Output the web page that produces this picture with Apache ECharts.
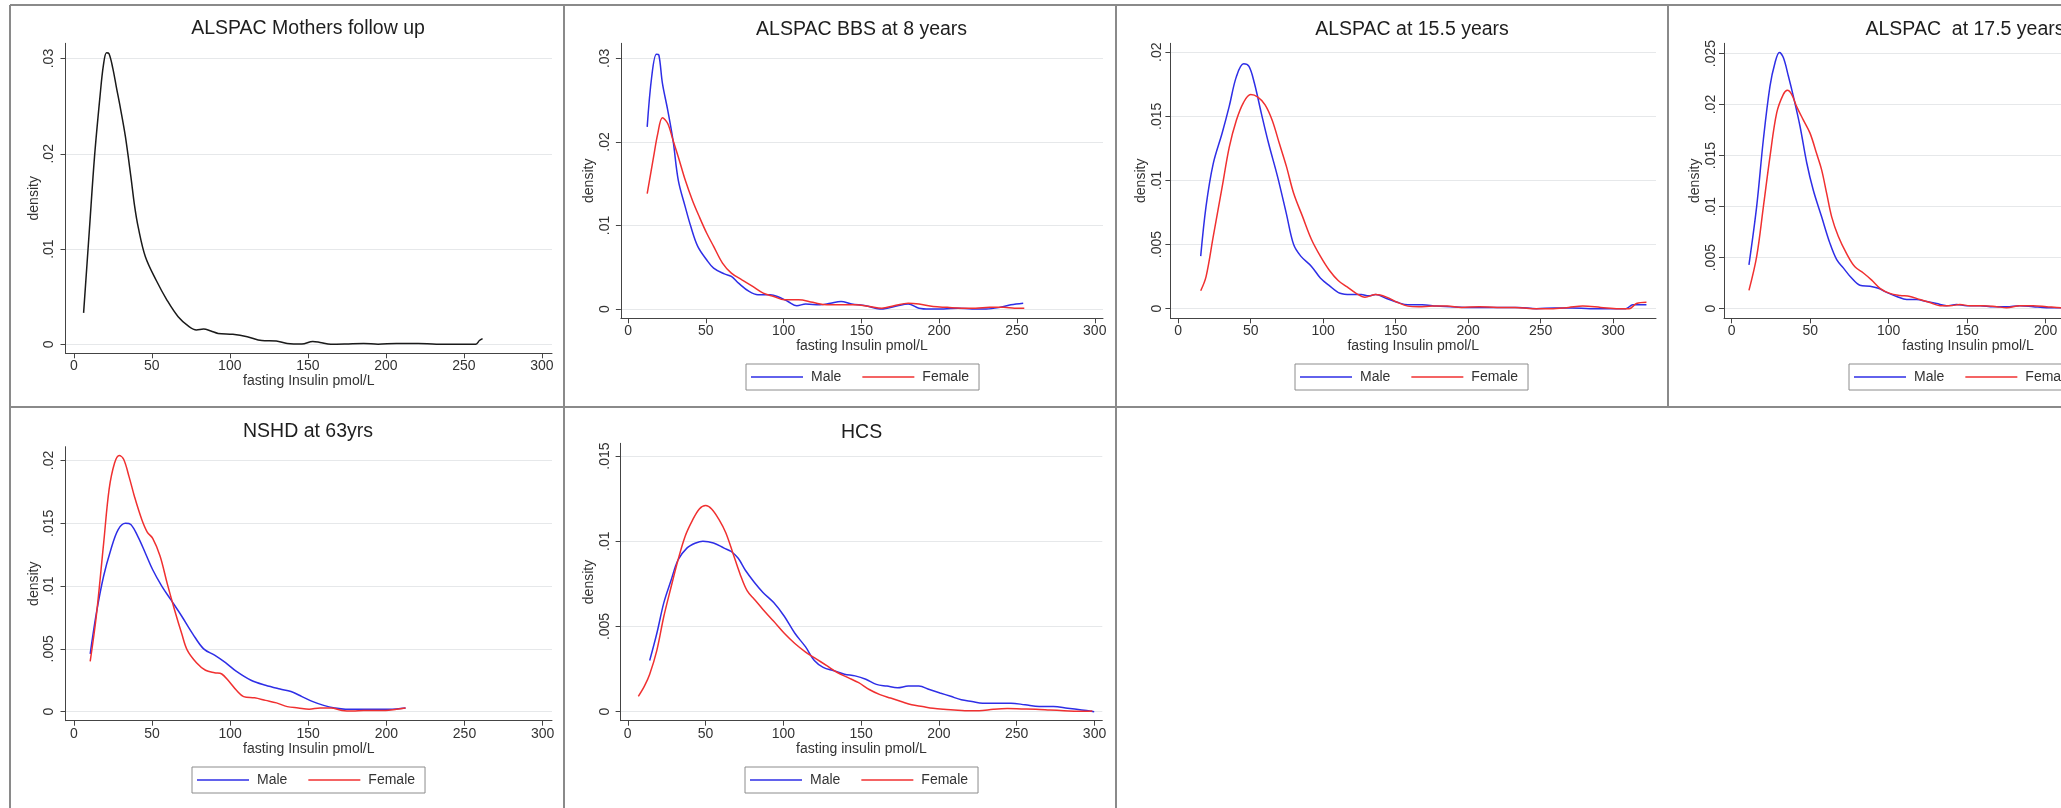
<!DOCTYPE html>
<html>
<head>
<meta charset="utf-8">
<script src="https://cdn.jsdelivr.net/npm/echarts@6/dist/echarts.min.js"></script>
<style>
html,body{margin:0;padding:0;overflow:hidden;background:#fff;}
#chart{width:2240px;height:808px;}
</style>
</head>
<body>
<div id="chart"></div>
<script>
// ---------------- DATA ----------------
const titles = ['ALSPAC Mothers follow up', 'ALSPAC BBS at 8 years', 'ALSPAC at 15.5 years', 'ALSPAC  at 17.5 years', 'NSHD at 63yrs', 'HCS'];
const xTitles = ['fasting Insulin pmol/L', 'fasting Insulin pmol/L', 'fasting Insulin pmol/L', 'fasting Insulin pmol/L', 'fasting Insulin pmol/L', 'fasting insulin pmol/L'];
const yTitle = 'density';
const legendNames = ['Male', 'Female'];
const xTicks = [0, 50, 100, 150, 200, 250, 300];
const yTicksP1 = [0, 0.01, 0.02, 0.03];
const yTicksP2 = [0, 0.01, 0.02, 0.03];
const yTicksP3 = [0, 0.005, 0.01, 0.015, 0.02];
const yTicksP4 = [0, 0.005, 0.01, 0.015, 0.02, 0.025];
const yTicksP5 = [0, 0.005, 0.01, 0.015, 0.02];
const yTicksP6 = [0, 0.005, 0.01, 0.015];

const mothers = [[6.3,0.0033],[10,0.012],[13.3,0.0197],[16.8,0.026],[19,0.0293],[21,0.0306],[22.6,0.0305],[25,0.029],[27.3,0.027],[30,0.0247],[33.1,0.0218],[36.6,0.0176],[39,0.0145],[41.3,0.0123],[45.9,0.0092],[52.9,0.0067],[59.9,0.0046],[66.9,0.0029],[73.9,0.00185],[78.6,0.0015],[83.2,0.0016],[87.9,0.0014],[92.5,0.00115],[101.9,0.00105],[111.2,0.0008],[120.5,0.0004],[129.8,0.00035],[136.8,0.0001],[146.2,0.00003],[153.2,0.0003],[157.8,0.0002],[164.8,0],[174.1,0.00003],[185.8,0.0001],[195,0],[206.8,0.0001],[220.7,0.0001],[232.4,0],[244,0],[257.5,0],[260,0.0004],[262,0.0006]];

const bbs8Male = [[12.3,0.0218],[15.2,0.0278],[18.2,0.0305],[19.8,0.0304],[22.1,0.027],[25.5,0.0238],[28.9,0.0202],[32.3,0.0154],[36.8,0.0122],[40.3,0.0099],[44.8,0.0075],[50.5,0.0059],[55,0.0049],[61.9,0.0042],[66.4,0.0039],[71,0.0031],[77.8,0.0021],[83.5,0.0017],[91.4,0.0017],[96,0.0015],[102.8,0.0009],[108.5,0.0004],[114.2,0.0006],[123.3,0.0005],[130.1,0.0007],[136.9,0.0009],[143.7,0.0006],[152.8,0.0004],[161.9,0],[166.5,0.0001],[173.3,0.0004],[180.1,0.0006],[187,0.0001],[193.8,0],[202.9,0],[212,0.0001],[221.1,0],[230.2,0],[239.3,0.0002],[246.1,0.0005],[254,0.0007]];
const bbs8Female = [[12.3,0.0138],[16.4,0.0182],[19.1,0.021],[22.1,0.0229],[25.5,0.0222],[28.9,0.0202],[32.3,0.0182],[36.8,0.0154],[41.4,0.013],[45.9,0.011],[50.5,0.0091],[55,0.0075],[60.7,0.0055],[66.4,0.0043],[73.2,0.0035],[80.1,0.0027],[86.9,0.0019],[93.7,0.0015],[100.5,0.0011],[109.6,0.0011],[118.7,0.0008],[127.8,0.0005],[136.9,0.0005],[146,0.0005],[155.1,0.0003],[163.1,0.0001],[171,0.0004],[180.1,0.0007],[187,0.0006],[196.1,0.0003],[205.2,0.0002],[214.3,0.0001],[223.4,0.0001],[232.5,0.0002],[241.5,0.0002],[248.4,0.0001],[254.7,0.0001]];

const y155Male = [[15.5,0.0041],[19.2,0.008],[24.1,0.0113],[30.3,0.0137],[35.2,0.0158],[40.1,0.0181],[45.1,0.0191],[48.8,0.0189],[52.5,0.0176],[57.4,0.0152],[62.3,0.0129],[68.5,0.0103],[74.6,0.0074],[79.6,0.005],[84.5,0.0041],[91.9,0.0033],[98,0.0024],[104.2,0.0018],[111.6,0.0012],[119,0.0011],[126.3,0.0011],[131.3,0.001],[136.2,0.0011],[143.6,0.0008],[151,0.0005],[158.4,0.0003],[168.2,0.0003],[178.1,0.0002],[187.9,0.00015],[197.8,0.0001],[210.1,0.0001],[222.4,0.0001],[234.7,0.0001],[247,0],[259.3,0.00005],[271.7,0.00005],[284,0],[296.3,0],[308.6,0],[313.5,0.0003],[318.5,0.0003],[322.9,0.0003]];
const y155Female = [[15.5,0.0014],[19.2,0.0025],[24.1,0.0056],[30.3,0.0095],[35.2,0.0126],[40.1,0.0147],[45.1,0.0161],[50,0.0167],[54.9,0.0165],[59.9,0.0159],[64.8,0.0147],[69.7,0.0129],[74.6,0.0111],[79.6,0.009],[85.7,0.0072],[91.9,0.0054],[98,0.0041],[104.2,0.003],[110.3,0.0022],[116.5,0.0017],[122.7,0.0012],[128.8,0.0009],[136.2,0.0011],[143.6,0.0009],[151,0.0005],[158.4,0.0002],[165.8,0.00015],[175.6,0.0002],[185.5,0.0002],[195.3,0.0001],[207.6,0.00015],[219.9,0.0001],[232.3,0.0001],[244.6,0],[256.9,0],[269.2,0.0001],[279,0.0002],[291.4,0.0001],[303.7,0],[311,0],[316,0.0004],[322.9,0.0005]];

const y175Male = [[11,0.0043],[15.9,0.01],[20.2,0.0166],[24.4,0.0218],[27.6,0.0241],[30.4,0.0251],[32.9,0.0246],[36.1,0.0228],[39.3,0.0208],[43.5,0.0179],[47.8,0.0143],[52,0.0116],[57.3,0.009],[62.6,0.0064],[66.9,0.0048],[71.1,0.004],[76.4,0.003],[81.7,0.0023],[88.1,0.0022],[93.4,0.002],[98.7,0.0016],[105.1,0.0012],[111.5,0.0009],[117.8,0.0009],[124.2,0.0007],[130.6,0.0005],[136.9,0.0003],[143.3,0.0004],[149.7,0.0003],[158.2,0.0003],[166.7,0.0002],[175.1,0.0002],[183.6,0.0003],[192.1,0.0002],[200.6,0.0001],[209.8,0.0001],[218,0.0001]];
const y175Female = [[11,0.0018],[15.9,0.0051],[20.2,0.01],[24.4,0.0149],[28.7,0.0192],[32.9,0.021],[35.5,0.0214],[38.2,0.021],[41.4,0.0198],[45.6,0.0185],[49.9,0.0172],[54.1,0.0152],[57.3,0.0136],[60.5,0.0113],[63.7,0.009],[67.9,0.0071],[73.2,0.0054],[78.5,0.0041],[83.9,0.0035],[89.2,0.0028],[94.5,0.002],[100.8,0.0015],[107.2,0.0013],[113.6,0.0012],[119.9,0.0009],[126.3,0.0006],[132.7,0.0003],[139.1,0.0003],[145.4,0.0004],[151.8,0.0003],[160.3,0.0003],[168.8,0.0002],[175.1,0.0001],[183.6,0.0003],[192.1,0.0003],[200.6,0.0002],[209.8,0.0001],[218,0.0001]];

const nshdMale = [[10.5,0.0046],[14.4,0.0078],[19.1,0.0108],[23.7,0.0129],[28.4,0.0145],[33.1,0.015],[36.5,0.0149],[41.2,0.0139],[45.9,0.0126],[50.5,0.0113],[56.3,0.01],[62.2,0.0089],[69.1,0.0076],[76.1,0.0062],[83.1,0.005],[90.1,0.0045],[97.1,0.0039],[104.1,0.0032],[113.4,0.0025],[122.7,0.0021],[132,0.0018],[139,0.0016],[146,0.0012],[153,0.0008],[159.9,0.0005],[166.9,0.0003],[173.9,0.0002],[183.2,0.0002],[192.5,0.0002],[201.8,0.0002],[212.3,0.0003]];
const nshdFemale = [[10.5,0.004],[14.4,0.0076],[19.1,0.0134],[22.6,0.0177],[26.1,0.0198],[29.1,0.0204],[31.9,0.0201],[35.4,0.0187],[38.9,0.0171],[43.5,0.0153],[47,0.0143],[50.5,0.0138],[55.2,0.0124],[59.8,0.0102],[64.5,0.0081],[69.1,0.0062],[72.6,0.0049],[78.5,0.0039],[84.3,0.0033],[90.1,0.0031],[94.7,0.003],[99.4,0.0024],[104.1,0.0017],[108.7,0.0012],[115.7,0.0011],[122.7,0.0009],[129.7,0.0007],[136.6,0.0004],[143.6,0.0003],[150.6,0.0002],[157.6,0.0003],[164.6,0.0003],[171.6,0.0001],[178.6,0.00005],[185.5,0.0001],[192.5,0.0001],[199.5,0.0001],[206.5,0.0002],[212.3,0.0003]];

const hcsMale = [[14.1,0.003],[18.7,0.0046],[23.2,0.0064],[27.8,0.0077],[32.3,0.0089],[38,0.0096],[43.7,0.0099],[48.3,0.01],[55.1,0.0099],[61.9,0.0096],[66.5,0.0094],[71,0.009],[75.6,0.0083],[81.3,0.0076],[86.9,0.007],[93.8,0.0064],[100.6,0.0056],[107.4,0.0046],[114.3,0.0038],[119.9,0.003],[125.6,0.0026],[132.5,0.0024],[139.3,0.0022],[146.1,0.0021],[153,0.0019],[159.8,0.0016],[166.6,0.0015],[173.4,0.0014],[180.3,0.0015],[187.1,0.0015],[193.9,0.0013],[200.7,0.0011],[207.6,0.0009],[214.4,0.0007],[221.2,0.0006],[228.1,0.0005],[237.2,0.0005],[246.3,0.0005],[255.4,0.0004],[264.5,0.0003],[273.6,0.0003],[282.7,0.0002],[291.8,0.0001],[299.8,0]];
const hcsFemale = [[6.8,0.0009],[10.7,0.0015],[14.1,0.0022],[18.7,0.0036],[23.2,0.0056],[27.8,0.0073],[32.3,0.0089],[36.9,0.0103],[41.4,0.0112],[46,0.0119],[50.1,0.0121],[53.9,0.0119],[58.5,0.0113],[63,0.0105],[67.6,0.0093],[72.1,0.0081],[76.7,0.0071],[81.3,0.0066],[86.9,0.006],[93.8,0.0053],[100.6,0.0046],[107.4,0.004],[114.3,0.0035],[121.1,0.0031],[127.9,0.0027],[134.7,0.0023],[141.6,0.002],[148.4,0.0017],[155.2,0.0013],[162.1,0.001],[168.9,0.0008],[175.7,0.0006],[182.5,0.0004],[189.4,0.0003],[196.2,0.0002],[203,0.00014],[209.8,0.0001],[216.7,0.00006],[225.8,0.00006],[234.9,0.00014],[244,0.00018],[253.1,0.00016],[262.2,0.00014],[271.3,0.0001],[280.4,0.00006],[289.5,0.00002],[298.6,0.00004]];

// ---------------- LAYOUT ----------------
const FONT = '"Liberation Sans", Arial, Helvetica, sans-serif';
const BLUE = '#2e2ee6';
const RED = '#f03030';
const BLACK = '#1a1a1a';

const panels = [
  {grid:{left:65.5,top:43.3,width:486.5,height:310}, x:[-5.3,306.5], y:[-0.00094,0.0316], yTicks:yTicksP1, labM:9, nameGap:20, title:[308,28.3]},
  {grid:{left:620.9,top:43.3,width:482.1,height:275}, x:[-4.6,305.3], y:[-0.00111,0.0318], yTicks:yTicksP2, labM:9, nameGap:25, title:[861.6,30], legend:[746,364]},
  {grid:{left:1170.4,top:43.3,width:485.6,height:275}, x:[-5.4,329.5], y:[-0.00075,0.0207], yTicks:yTicksP3, labM:6, nameGap:22, title:[1412,29.5], legend:[1295,364]},
  {grid:{left:1724,top:43.3,width:488,height:275}, x:[-4.9,306], y:[-0.00094,0.026], yTicks:yTicksP4, labM:6, nameGap:22, title:[1965,29.5], legend:[1849,364]},
  {grid:{left:65.5,top:446.7,width:486.5,height:274}, x:[-5.3,306], y:[-0.00072,0.0211], yTicks:yTicksP5, labM:9, nameGap:20, title:[308,431.7], legend:[192,767]},
  {grid:{left:620.6,top:443.3,width:481.7,height:277.4}, x:[-4.6,305], y:[-0.00053,0.01575], yTicks:yTicksP6, labM:8, nameGap:24, title:[861.6,432.3], legend:[745,767]}
];

const seriesDefs = [
  {p:0, name:'Mothers', data:mothers, color:BLACK},
  {p:1, name:'Male', data:bbs8Male, color:BLUE},
  {p:1, name:'Female', data:bbs8Female, color:RED},
  {p:2, name:'Male', data:y155Male, color:BLUE},
  {p:2, name:'Female', data:y155Female, color:RED},
  {p:3, name:'Male', data:y175Male, color:BLUE},
  {p:3, name:'Female', data:y175Female, color:RED},
  {p:4, name:'Male', data:nshdMale, color:BLUE},
  {p:4, name:'Female', data:nshdFemale, color:RED},
  {p:5, name:'Male', data:hcsMale, color:BLUE},
  {p:5, name:'Female', data:hcsFemale, color:RED}
];

const AX = '#444';
const yFmt = v => v === 0 ? '0' : String(v).replace(/^0/, '');

const option = {
  animation: false,
  backgroundColor: '#fff',
  grid: panels.map(p => p.grid),
  xAxis: panels.map((p, i) => ({
    type: 'value', gridIndex: i, min: p.x[0], max: p.x[1],
    axisLine: {show: true, onZero: false, lineStyle: {color: AX, width: 1}},
    axisTick: {show: true, customValues: xTicks, length: 5, lineStyle: {color: AX}},
    axisLabel: {customValues: xTicks, fontSize: 14, color: '#333', fontFamily: FONT, margin: 6},
    splitLine: {show: false},
    name: xTitles[i], nameLocation: 'middle', nameGap: 21,
    nameTextStyle: {fontSize: 14, color: '#333', fontFamily: FONT}
  })),
  yAxis: panels.map((p, i) => ({
    type: 'value', gridIndex: i, min: p.y[0], max: p.y[1],
    axisLine: {show: true, onZero: false, lineStyle: {color: AX, width: 1}},
    axisTick: {show: true, customValues: p.yTicks, length: 5, lineStyle: {color: AX}},
    axisLabel: {customValues: p.yTicks, rotate: 90, fontSize: 14, color: '#333', fontFamily: FONT, margin: p.labM, formatter: yFmt},
    splitLine: {show: true, lineStyle: {color: '#e6e8ea', width: 1}},
    name: yTitle, nameLocation: 'middle', nameGap: p.nameGap,
    nameTextStyle: {fontSize: 14, color: '#333', fontFamily: FONT}
  })),
  legend: panels.filter(p => p.legend).map(p => ({
    left: p.legend[0], top: p.legend[1], orient: 'horizontal',
    data: legendNames, icon: 'rect', itemWidth: 52, itemHeight: 1.6, itemGap: 21,
    padding: [6, 10, 6, 5], borderColor: '#8c8c8c', borderWidth: 1,
    selectedMode: false,
    textStyle: {fontSize: 14, color: '#333', fontFamily: FONT, padding: [0, 0, 0, 3]}
  })),
  series: seriesDefs.map(s => ({
    type: 'line', name: s.name, xAxisIndex: s.p, yAxisIndex: s.p,
    data: s.data, showSymbol: false, smooth: 0.35, color: s.color,
    itemStyle: {color: s.color},
    lineStyle: {color: s.color, width: 1.5}, silent: true
  })),
  graphic: []
};

// panel borders
const BC = '#8a8a8a';
const borderLines = [
  [10, 5, 2240, 5],
  [10, 407, 2240, 407],
  [10, 5, 10, 808],
  [564, 5, 564, 808],
  [1116, 5, 1116, 808],
  [1668, 5, 1668, 407]
];
borderLines.forEach(l => option.graphic.push({
  type: 'line', silent: true, z: 100,
  shape: {x1: l[0], y1: l[1], x2: l[2], y2: l[3]},
  style: {stroke: BC, lineWidth: 2}
}));
panels.forEach((p, i) => option.graphic.push({
  type: 'text', silent: true, x: p.title[0], y: p.title[1],
  style: {text: titles[i], fill: '#1e1e1e', font: '19.5px ' + FONT, align: 'center', verticalAlign: 'middle'}
}));

const chart = echarts.init(document.getElementById('chart'), null, {renderer: 'canvas'});
chart.setOption(option);
</script>
</body>
</html>
